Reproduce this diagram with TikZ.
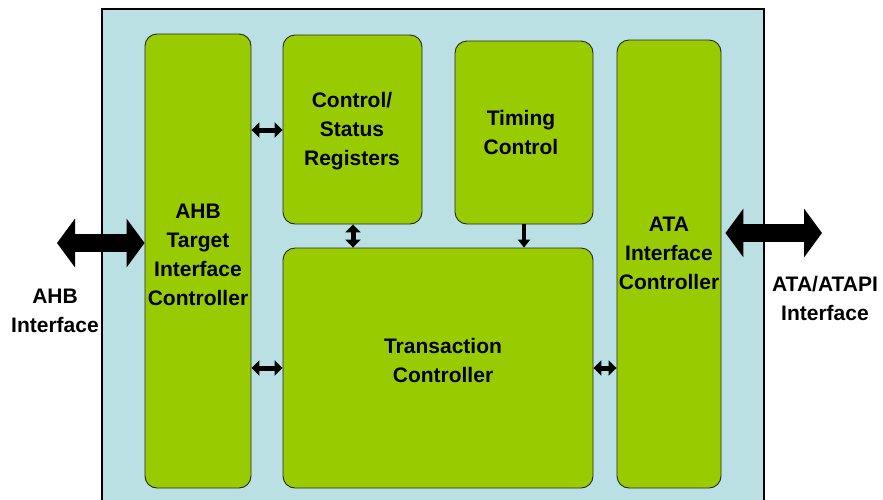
\documentclass[tikz,border=0pt]{standalone}
\usepackage{fontspec}
\setmainfont{Liberation Sans}
\usetikzlibrary{arrows.meta}
\definecolor{panelblue}{HTML}{BBE0E3}
\definecolor{blockgreen}{HTML}{99CC00}
\begin{document}
\begin{tikzpicture}[x=1pt,y=-1pt,
  block/.style={draw=black!85, line width=0.9pt, fill=blockgreen, rounded corners=12pt, inner sep=0pt},
  lbl/.style={font=\bfseries\fontsize{21}{29}\selectfont, align=center, inner sep=0pt},
  bus/.style={line width=18pt, {Triangle[length=18pt,width=48pt]}-{Triangle[length=18pt,width=48pt]}},
  link/.style={line width=5pt, {Triangle[length=8pt,width=15pt]}-{Triangle[length=8pt,width=15pt]}},
  feed/.style={line width=4pt, -{Triangle[length=8pt,width=12pt]}}]
\useasboundingbox (0,0) rectangle (883,499);

% core panel, running past the lower edge
\begin{scope}
  \clip (0,0) rectangle (883,499);
  \draw[fill=panelblue, line width=1.2pt] (102,9) rectangle (764,540);
\end{scope}

% functional blocks
\node[block, minimum width=106pt, minimum height=454pt] (ahb) at (198,261) {};
\node[block, minimum width=139pt, minimum height=189pt] (csr) at (352.5,129.5) {};
\node[block, minimum width=138pt, minimum height=183pt] (tim) at (524,132.5) {};
\node[block, minimum width=310pt, minimum height=240pt] (trn) at (438,368) {};
\node[block, minimum width=104pt, minimum height=448pt] (ata) at (669,264) {};

% block labels
\node[lbl] (ahbtxt) at (198,255) {AHB\\Target\\Interface\\Controller};
\node[lbl] (csrtxt) at (352,131) {Control/\\Status\\Registers};
\node[lbl] (timtxt) at (521,132) {Timing\\Control};
\node[lbl] (trntxt) at (443,360) {Transaction\\Controller};
\node[lbl] (atatxt) at (669,253) {ATA\\Interface\\Controller};

% external interfaces
\node[lbl] (ahbif) at (55,311) {AHB\\Interface};
\node[lbl] (ataif) at (825,298) {ATA/ATAPI\\Interface};
\coordinate (ahbend) at (57,243);
\coordinate (ataend) at (822,233);
\draw[bus] (ahbend) -- (ahb.west |- ahbend);
\draw[bus, shorten <=4pt] (ata.east |- ataend) -- (ataend);

% internal connections
\draw[link] (ahb.east |- 0,130) -- (csr.west |- 0,130);
\draw[link] (ahb.east |- 0,368) -- (trn.west |- 0,368);
\draw[link] (trn.east |- 0,368) -- (ata.west |- 0,368);
\draw[link] (csr.south -| 353,0) -- (trn.north -| 353,0);
\draw[feed] (tim.south -| 524,0) -- (trn.north -| 524,0);
\end{tikzpicture}
\end{document}
